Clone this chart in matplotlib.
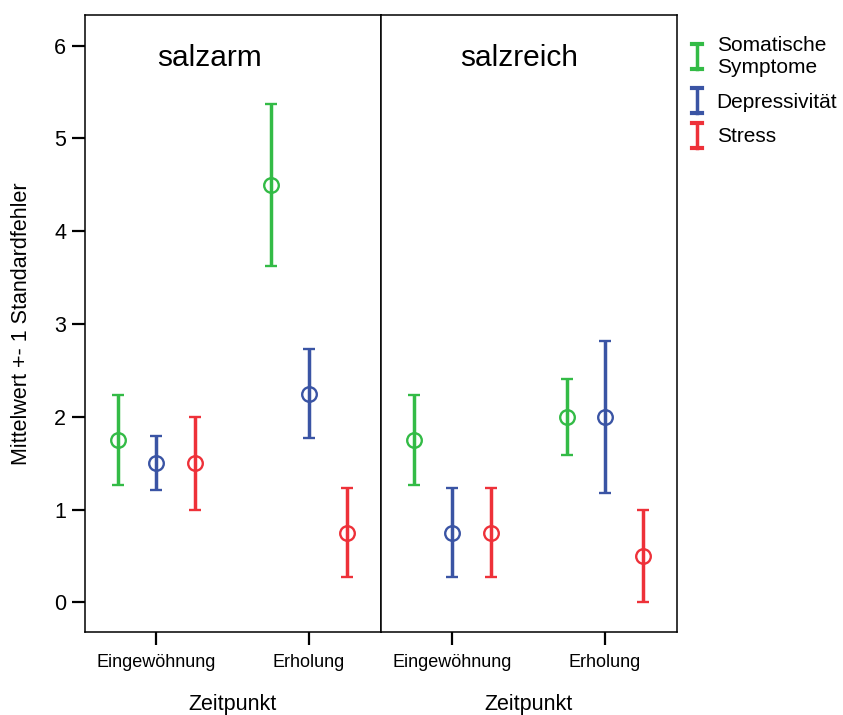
import matplotlib
matplotlib.use("Agg")
import matplotlib.pyplot as plt
from matplotlib.legend_handler import HandlerBase
from matplotlib.lines import Line2D

plt.rcParams['font.family'] = ['Liberation Sans', 'DejaVu Sans']

zeitpunkte = ["Eingewöhnung", "Erholung"]
gruppen = ["salzarm", "salzreich"]
reihen = ["Somatische\nSymptome", "Depressivität", "Stress"]
farben = ["#33bb46", "#3a54a4", "#ee3139"]

# mean per group -> series -> zeitpunkt
mittel = {
    "salzarm": [[1.75, 4.5], [1.5, 2.25], [1.5, 0.75]],
    "salzreich": [[1.75, 2.0], [0.75, 2.0], [0.75, 0.5]],
}
# standard error
fehler = {
    "salzarm": [[0.48, 0.87], [0.29, 0.48], [0.5, 0.48]],
    "salzreich": [[0.48, 0.41], [0.48, 0.82], [0.48, 0.5]],
}
versatz = [-0.25, 0.0, 0.25]
titel_x = [0.42, 0.468]


class HandlerI(HandlerBase):
    def create_artists(self, legend, orig_handle, xdescent, ydescent,
                       width, height, fontsize, trans):
        c = orig_handle.get_color()
        xm = width / 2 - xdescent
        ym = height / 2 - ydescent
        h = 9.0
        lw = 2.5
        v = Line2D([xm, xm], [ym - h, ym + h], color=c, lw=lw, transform=trans)
        t = Line2D([xm - 3.6, xm + 3.6], [ym + h, ym + h], color=c, lw=lw + 0.5,
                   transform=trans)
        b = Line2D([xm - 3.6, xm + 3.6], [ym - h, ym - h], color=c, lw=lw + 0.5,
                   transform=trans)
        return [v, t, b]


fig, axes = plt.subplots(1, 2, figsize=(8.43, 7.15), dpi=100, sharey=True)
fig.subplots_adjust(left=0.1008, right=0.803, top=0.979, bottom=0.116, wspace=0)

for ax, g, tx in zip(axes, gruppen, titel_x):
    for i, (name, col) in enumerate(zip(reihen, farben)):
        xs = [k + versatz[i] for k in range(len(zeitpunkte))]
        ax.errorbar(xs, mittel[g][i], yerr=fehler[g][i], fmt='o', color=col,
                    mfc='none', mec=col, ms=10.5, mew=1.7, elinewidth=2.5,
                    capsize=4, capthick=2.8, label=name, zorder=3)
    ax.set_xlim(-0.47, 1.475)
    ax.set_ylim(-0.32, 6.33)
    ax.set_xticks(range(len(zeitpunkte)))
    ax.set_xticklabels(zeitpunkte, fontsize=13)
    ax.set_xlabel("Zeitpunkt", fontsize=15.5, labelpad=16)
    ax.tick_params(axis='x', length=9, width=1.6, pad=7)
    ax.text(tx, 0.93, g, transform=ax.transAxes, ha='center', va='center',
            fontsize=21.5)
    for s in ax.spines.values():
        s.set_linewidth(1.1)

axes[0].set_yticks(range(7))
axes[0].tick_params(axis='y', length=9.5, width=1.6, pad=4, labelsize=15.5)
axes[1].tick_params(axis='y', left=False)
axes[0].set_ylabel("Mittelwert +- 1 Standardfehler", fontsize=15.5, labelpad=16)

handles = [Line2D([], [], color=c) for c in farben]
fig.legend(handles, reihen, loc='upper left', bbox_to_anchor=(0.808, 0.961),
           frameon=False, fontsize=15, handler_map={Line2D: HandlerI()},
           handlelength=0.7, handletextpad=0.6, labelspacing=0.75,
           borderaxespad=0)

fig.savefig("out.png", dpi=100)
